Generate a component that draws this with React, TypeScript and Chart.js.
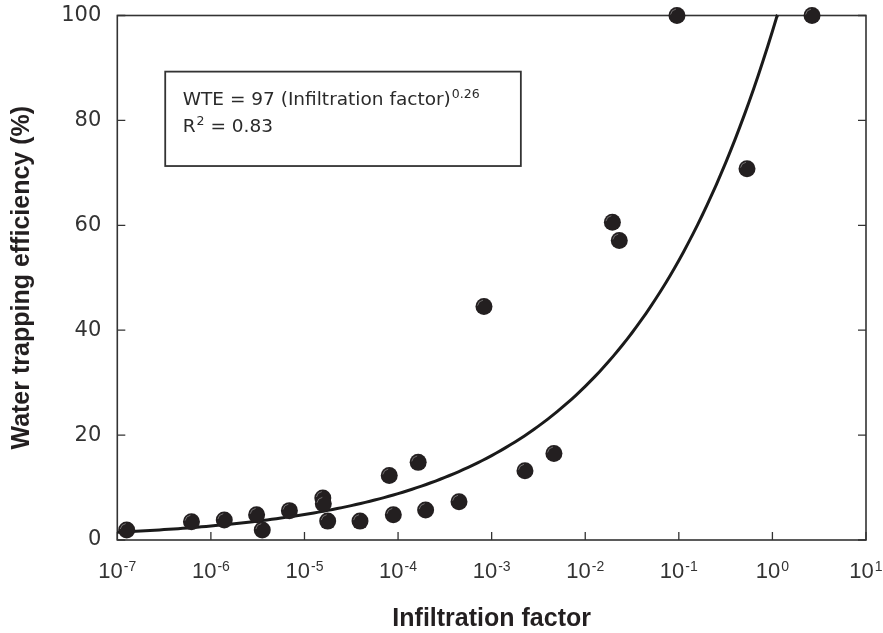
import React, { useEffect, useRef } from "react";
import { Chart, registerables } from "chart.js";

Chart.register(...registerables);

// ---- Data ----
const INFILTRATION_FACTOR = [
  1.26e-7, 6.2e-7, 1.39e-6, 3.08e-6, 3.54e-6, 6.9e-6, 1.57e-5, 1.59e-5, 1.77e-5,
  3.92e-5, 8.05e-5, 8.9e-5, 1.64e-4, 1.97e-4, 4.48e-4, 8.28e-4, 2.27e-3, 4.63e-3,
  0.0195, 0.0231, 0.0955, 0.535, 2.65,
];
const WATER_TRAPPING_EFFICIENCY = [
  1.9, 3.5, 3.8, 4.8, 1.9, 5.6, 8.0, 6.9, 3.6,
  3.6, 12.3, 4.8, 14.8, 5.7, 7.3, 44.5, 13.2, 16.5,
  60.6, 57.1, 100, 70.8, 100,
];

// Fitted curve stated on the chart: WTE = 97 (Infiltration factor)^0.26
const FIT_COEFFICIENT = 97;
const FIT_EXPONENT = 0.26;
const FIT_LABEL_BASE = "WTE = 97 (Infiltration factor)";
const FIT_LABEL_EXP = "0.26";
const R2_VALUE = "0.83";

const X_TICK_EXPONENTS = [-7, -6, -5, -4, -3, -2, -1, 0, 1];
const Y_TICKS = [0, 20, 40, 60, 80, 100];
const X_TITLE = "Infiltration factor";
const Y_TITLE = "Water trapping efficiency (%)";

// sample the stated fit along the log axis, up to where it reaches 100 %
const FIT_END = Math.pow(100 / FIT_COEFFICIENT, 1 / FIT_EXPONENT);
const FIT_POINTS: { x: number; y: number }[] = [];
for (let e = -7; e < Math.log10(FIT_END); e += 0.05) {
  const x = Math.pow(10, e);
  FIT_POINTS.push({ x, y: FIT_COEFFICIENT * Math.pow(x, FIT_EXPONENT) });
}
FIT_POINTS.push({ x: FIT_END, y: FIT_COEFFICIENT * Math.pow(FIT_END, FIT_EXPONENT) });

const INK = "#231f20";
const FRAME = "#333333";

const framePlugin = {
  id: "frameTicks",
  beforeDatasetsDraw(chart: any) {
    const { ctx, chartArea: a, scales } = chart;
    ctx.save();
    ctx.strokeStyle = FRAME;
    ctx.lineWidth = 1.6;
    ctx.strokeRect(a.left, a.top, a.right - a.left, a.bottom - a.top);
    ctx.lineWidth = 1.3;
    const tl = 8;
    ctx.beginPath();
    for (const e of X_TICK_EXPONENTS) {
      const px = scales.x.getPixelForValue(Math.pow(10, e));
      ctx.moveTo(px, a.bottom);
      ctx.lineTo(px, a.bottom - tl);
    }
    for (const v of Y_TICKS) {
      const py = scales.y.getPixelForValue(v);
      ctx.moveTo(a.left, py);
      ctx.lineTo(a.left + tl, py);
      ctx.moveTo(a.right, py);
      ctx.lineTo(a.right - tl, py);
    }
    ctx.stroke();
    ctx.restore();
  },
  afterDatasetsDraw(chart: any) {
    // subtle highlight on the markers, as in the reference
    const { ctx } = chart;
    const meta = chart.getDatasetMeta(0);
    ctx.save();
    ctx.strokeStyle = "rgba(255,255,255,0.35)";
    ctx.lineWidth = 1;
    for (const el of meta.data) {
      ctx.beginPath();
      ctx.arc(el.x, el.y, 6.5, Math.PI * 1.05, Math.PI * 1.45);
      ctx.stroke();
    }
    ctx.restore();
  },
  afterDraw(chart: any) {
    const { ctx, chartArea: a, scales } = chart;
    ctx.save();
    // x tick labels with superscript exponents
    ctx.fillStyle = FRAME;
    ctx.textBaseline = "alphabetic";
    ctx.textAlign = "left";
    const baseFont = "22px 'Liberation Sans', Arial, sans-serif";
    const expFont = "14px 'Liberation Sans', Arial, sans-serif";
    for (const e of X_TICK_EXPONENTS) {
      const px = scales.x.getPixelForValue(Math.pow(10, e));
      const expTxt = e < 0 ? "-" + Math.abs(e) : String(e);
      ctx.font = baseFont;
      const wb = ctx.measureText("10").width;
      ctx.font = expFont;
      const we = ctx.measureText(expTxt).width;
      const x0 = px - (wb + we + 1) / 2;
      ctx.font = baseFont;
      ctx.fillText("10", x0, a.bottom + 38);
      ctx.font = expFont;
      ctx.fillText(expTxt, x0 + wb + 1, a.bottom + 30.5);
    }

    // equation box
    const w = a.right - a.left;
    const h = a.bottom - a.top;
    const bx = a.left + w * 0.064;
    const by = a.top + h * 0.107;
    const bw = w * 0.475;
    const bh = h * 0.18;
    ctx.fillStyle = "#ffffff";
    ctx.fillRect(bx, by, bw, bh);
    ctx.strokeStyle = FRAME;
    ctx.lineWidth = 1.8;
    ctx.strokeRect(bx, by, bw, bh);

    const tf = "18.5px 'DejaVu Sans', sans-serif";
    const sf = "12.5px 'DejaVu Sans', sans-serif";
    ctx.fillStyle = "#2a2a2a";
    const tx = bx + 17.5;
    const l1 = by + 33.3;
    const l2 = by + 60;
    ctx.font = tf;
    ctx.fillText(FIT_LABEL_BASE, tx, l1);
    const w1 = ctx.measureText(FIT_LABEL_BASE).width;
    ctx.font = sf;
    ctx.fillText(FIT_LABEL_EXP, tx + w1 + 1, l1 - 7);

    ctx.font = tf;
    ctx.fillText("R", tx, l2);
    const wr = ctx.measureText("R").width;
    ctx.font = sf;
    ctx.fillText("2", tx + wr + 1, l2 - 7);
    const w2 = ctx.measureText("2").width;
    ctx.font = tf;
    ctx.fillText(" = " + R2_VALUE, tx + wr + 1 + w2, l2);
    ctx.restore();
  },
};

export default function App() {
  const ref = useRef<HTMLCanvasElement | null>(null);

  useEffect(() => {
    if (!ref.current) return;
    const chart = new Chart(ref.current, {
      type: "scatter",
      data: {
        datasets: [
          {
            label: "Observed",
            data: INFILTRATION_FACTOR.map((x, i) => ({ x, y: WATER_TRAPPING_EFFICIENCY[i] })),
            backgroundColor: INK,
            borderColor: INK,
            borderWidth: 0,
            pointRadius: 8.5,
            pointHoverRadius: 8.5,
            clip: false as any,
          },
          {
            label: "Fit",
            data: FIT_POINTS,
            showLine: true,
            borderColor: "#1a1a1a",
            borderWidth: 3,
            pointRadius: 0,
            pointHoverRadius: 0,
            tension: 0,
            clip: false as any,
          },
        ],
      },
      options: {
        animation: false,
        responsive: true,
        maintainAspectRatio: false,
        layout: { padding: { top: 15.5, right: 17, left: 0, bottom: 0 } },
        plugins: { legend: { display: false }, tooltip: { enabled: false } },
        scales: {
          x: {
            type: "logarithmic",
            min: 1e-7,
            max: 10,
            grid: { display: false, drawTicks: false },
            border: { display: false },
            ticks: { display: false },
            title: {
              display: true,
              text: X_TITLE,
              color: INK,
              font: { family: "'Liberation Sans', Arial, sans-serif", size: 25, weight: "bold", lineHeight: 1 },
              padding: { top: 0, bottom: 1.5 },
            },
            afterFit: (s: any) => {
              s.height = 93;
              s.paddingLeft = 0;
              s.paddingRight = 0;
            },
          },
          y: {
            min: 0,
            max: 100,
            grid: { display: false, drawTicks: false },
            border: { display: false },
            ticks: {
              stepSize: 20,
              color: FRAME,
              padding: 16,
              font: { family: "'DejaVu Sans', sans-serif", size: 21 },
            },
            title: {
              display: true,
              text: Y_TITLE,
              color: INK,
              font: { family: "'Liberation Sans', Arial, sans-serif", size: 25, weight: "bold", lineHeight: 1 },
              padding: { top: 9.5, bottom: 0 },
            },
            afterFit: (s: any) => {
              s.width = 117.3;
              s.paddingTop = 0;
              s.paddingBottom = 0;
            },
          },
        },
      } as any,
      plugins: [framePlugin],
    });
    return () => chart.destroy();
  }, []);

  return (
    <div style={{ position: "fixed", left: 0, top: 0, width: 883, height: 633, background: "#fff" }}>
      <canvas ref={ref} />
    </div>
  );
}
